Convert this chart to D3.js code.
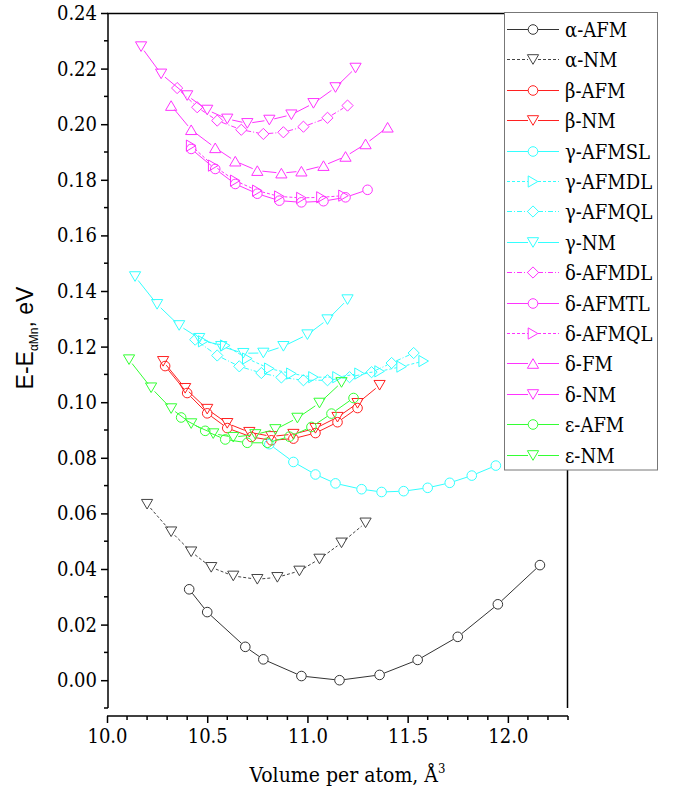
<!DOCTYPE html>
<html>
<head>
<meta charset="utf-8">
<script src="https://cdn.jsdelivr.net/npm/d3@7"></script>
<style>
body { margin: 0; background: #fff; }
text { font-family: "DejaVu Serif Condensed", "DejaVu Serif", serif; }
</style>
</head>
<body>
<div id="app"></div>
<script>
// Data: [volume per atom (Å^3), E - E_aMn (eV)]
var aAFM = [[10.41,0.0327],[10.50,0.0245],[10.69,0.0120],[10.78,0.0075],[10.97,0.0015],[11.16,0.0000],
	[11.36,0.0019],[11.55,0.0073],[11.75,0.0156],[11.95,0.0273],[12.16,0.0414]];
var aNM = [[10.20,0.0633],[10.32,0.0534],[10.42,0.0462],[10.52,0.0406],[10.63,0.0375],[10.75,0.0363],
	[10.85,0.0370],[10.96,0.0393],[11.06,0.0436],[11.17,0.0494],[11.29,0.0566]];
var bAFM = [[10.29,0.1130],[10.40,0.1033],[10.50,0.0960],[10.60,0.0907],[10.72,0.0875],[10.82,0.0863],
	[10.93,0.0869],[11.04,0.0889],[11.15,0.0928],[11.25,0.0979]];
var bNM = [[10.28,0.1147],[10.39,0.1050],[10.50,0.0975],[10.60,0.0924],[10.71,0.0892],[10.82,0.0877],
	[10.93,0.0885],[11.04,0.0906],[11.15,0.0946],[11.25,0.0996],[11.36,0.1061]];
var gAFMSL = [[10.81,0.0849],[10.93,0.0785],[11.04,0.0740],[11.14,0.0708],[11.27,0.0687],[11.37,0.0677],
	[11.48,0.0680],[11.60,0.0692],[11.71,0.0710],[11.82,0.0736],[11.94,0.0772]];
var gAFMDL = [[10.48,0.1219],[10.59,0.1204],[10.70,0.1157],[10.81,0.1121],[10.92,0.1103],[11.03,0.1090],
	[11.15,0.1090],[11.26,0.1103],[11.36,0.1111],[11.47,0.1128],[11.58,0.1148]];
var gAFMQL = [[10.44,0.1225],[10.55,0.1168],[10.66,0.1129],[10.77,0.1105],[10.87,0.1089],[10.98,0.1079],
	[11.10,0.1079],[11.21,0.1090],[11.32,0.1108],[11.42,0.1141],[11.53,0.1177]];
var gNM = [[10.14,0.1452],[10.25,0.1352],[10.36,0.1276],[10.46,0.1230],[10.57,0.1201],[10.68,0.1176],
	[10.78,0.1177],[10.88,0.1201],[11.00,0.1243],[11.10,0.1297],[11.20,0.1369]];
var dAFMDL = [[10.35,0.2130],[10.45,0.2061],[10.55,0.2013],[10.67,0.1980],[10.78,0.1965],[10.88,0.1971],
	[10.98,0.1991],[11.10,0.2023],[11.20,0.2067]];
var dAFMTL = [[10.42,0.1911],[10.54,0.1839],[10.64,0.1785],[10.75,0.1750],[10.86,0.1725],[10.97,0.1719],
	[11.08,0.1723],[11.19,0.1737],[11.30,0.1764]];
var dAFMQL = [[10.42,0.1923],[10.53,0.1851],[10.64,0.1797],[10.75,0.1761],[10.86,0.1740],[10.97,0.1735],
	[11.07,0.1737],[11.18,0.1743]];
var dFM = [[10.32,0.2067],[10.42,0.1980],[10.54,0.1915],[10.64,0.1867],[10.75,0.1833],[10.87,0.1824],
	[10.97,0.1831],[11.08,0.1851],[11.19,0.1884],[11.29,0.1929],[11.40,0.1989]];
var dNM = [[10.17,0.2279],[10.27,0.2181],[10.40,0.2103],[10.50,0.2051],[10.60,0.2019],[10.70,0.2003],
	[10.81,0.2015],[10.92,0.2034],[11.03,0.2075],[11.14,0.2132],[11.24,0.2202]];
var eAFM = [[10.37,0.0945],[10.49,0.0897],[10.59,0.0866],[10.70,0.0854],[10.80,0.0854],[10.91,0.0876],
	[11.02,0.0911],[11.12,0.0959],[11.23,0.1015]];
var eNM = [[10.11,0.1153],[10.22,0.1052],[10.32,0.0977],[10.42,0.0923],[10.53,0.0887],[10.63,0.0874],
	[10.74,0.0884],[10.84,0.0902],[10.95,0.0943],[11.06,0.0997],[11.17,0.1071]];

var labels = ["α-AFM", "α-NM", "β-AFM", "β-NM", "γ-AFMSL", "γ-AFMDL", "γ-AFMQL", "γ-NM",
	"δ-AFMDL", "δ-AFMTL", "δ-AFMQL", "δ-FM", "δ-NM", "ε-AFM", "ε-NM"];
var seriesData = [aAFM, aNM, bAFM, bNM, gAFMSL, gAFMDL, gAFMQL, gNM, dAFMDL, dAFMTL, dAFMQL, dFM, dNM, eAFM, eNM];

var xTicks = [10.0, 10.5, 11.0, 11.5, 12.0];
var yTicks = [0.00, 0.02, 0.04, 0.06, 0.08, 0.10, 0.12, 0.14, 0.16, 0.18, 0.20, 0.22, 0.24];

// Styles, one per series (colour, dash, marker)
var styles = [
	{c: "#333", dash: null, m: "circle"},
	{c: "#444", dash: "3,2", m: "down"},
	{c: "#ff2020", dash: null, m: "circle"},
	{c: "#ff2020", dash: null, m: "down"},
	{c: "#33ffff", dash: null, m: "circle"},
	{c: "#33ffff", dash: "3,2", m: "right"},
	{c: "#33ffff", dash: "5,2,1,2", m: "diamond"},
	{c: "#33ffff", dash: null, m: "down"},
	{c: "#ff33ff", dash: "5,2,1,2", m: "diamond"},
	{c: "#ff33ff", dash: null, m: "circle"},
	{c: "#ff33ff", dash: "3,2", m: "right"},
	{c: "#ff33ff", dash: null, m: "up"},
	{c: "#ff33ff", dash: null, m: "down"},
	{c: "#33ff33", dash: null, m: "circle"},
	{c: "#33ff33", dash: null, m: "down"}
];

var W = 681, H = 792;
var x0 = 107, x1 = 568, yTop = 13, yBot = 708, xAxisY = 716;
var serif = "'DejaVu Serif Condensed','DejaVu Serif',serif";

var svg = d3.select("#app").append("svg")
	.attr("width", W).attr("height", H)
	.style("display", "block");

var x = d3.scaleLinear().domain([10.0, 12.3]).range([x0, x1]);
var y = d3.scaleLinear().domain([-0.01, 0.24]).range([yBot, yTop]);

// Marker path generator (centred at 0,0)
function markerPath (type)
{
	var r = 4.8, w = 5.6, h = 9.6;
	switch (type)
	{
		case "circle":
			return "M" + (-r) + ",0A" + r + "," + r + " 0 1,0 " + r + ",0A" + r + "," + r + " 0 1,0 " + (-r) + ",0Z";
		case "down":
			return "M" + (-w) + "," + (-h/2) + "L" + w + "," + (-h/2) + "L0," + (h/2) + "Z";
		case "up":
			return "M" + (-w) + "," + (h/2) + "L" + w + "," + (h/2) + "L0," + (-h/2) + "Z";
		case "right":
			return "M" + (-h/2) + "," + (-w) + "L" + (h/2) + ",0L" + (-h/2) + "," + w + "Z";
		case "diamond":
			return "M0," + (-w) + "L" + w + ",0L0," + w + "L" + (-w) + ",0Z";
	}
}

// Frame: top and right lines
svg.append("line").attr("x1", x0).attr("x2", x1).attr("y1", yTop + 0.5).attr("y2", yTop + 0.5)
	.attr("stroke", "#000").attr("stroke-width", 1.5);
svg.append("line").attr("x1", x1 - 0.5).attr("x2", x1 - 0.5).attr("y1", yTop).attr("y2", yBot)
	.attr("stroke", "#000").attr("stroke-width", 1.5);

// Y axis
var yAxis = d3.axisLeft(y).tickValues(yTicks).tickFormat(d3.format(".2f")).tickSize(7).tickPadding(4);
var gy = svg.append("g").attr("transform", "translate(" + (x0 + 1) + ",0)").call(yAxis);
gy.select(".domain").attr("d", "M0," + yTop + "V" + yBot).attr("stroke-width", 1.5);
gy.selectAll(".tick line").attr("stroke-width", 1.5);
gy.selectAll("text").style("font-size", "20px").attr("fill", "#000").style("font-family", serif);
gy.selectAll(".ytick-minor").data(d3.range(-0.01, 0.245, 0.02)).enter().append("line")
	.attr("x1", 0).attr("x2", -4).attr("y1", function (d) {return y(d);}).attr("y2", function (d) {return y(d);})
	.attr("stroke", "#000").attr("stroke-width", 1.5);

// X axis (detached below the frame)
var xAxis = d3.axisBottom(x).tickValues(xTicks).tickFormat(d3.format(".1f")).tickSize(7).tickPadding(6);
var gx = svg.append("g").attr("transform", "translate(0," + xAxisY + ")").call(xAxis);
gx.select(".domain").attr("d", "M" + x0 + ",0H" + x1).attr("stroke-width", 1.5);
gx.selectAll(".tick line").attr("stroke-width", 1.5);
gx.selectAll("text").style("font-size", "20px").attr("fill", "#000").style("font-family", serif);
gx.selectAll(".xtick-minor").data(d3.range(10.1, 12.31, 0.1).filter(function (d) {
		return Math.abs(d*2 - Math.round(d*2)) > 0.01;})).enter().append("line")
	.attr("x1", function (d) {return x(d);}).attr("x2", function (d) {return x(d);})
	.attr("y1", 0).attr("y2", 4)
	.attr("stroke", "#000").attr("stroke-width", 1.5);

// Axis titles
svg.append("text")
	.attr("x", (x0 + x1)/2 + 10).attr("y", 782)
	.attr("text-anchor", "middle").style("font-size", "21px")
	.text("Volume per atom, Å")
	.append("tspan").attr("dy", -9).style("font-size", "13px").text("3");

var yt = svg.append("text")
	.attr("transform", "translate(33,338) rotate(-90)")
	.attr("text-anchor", "middle")
	.style("font-family", "'Liberation Sans Narrow','Liberation Sans',sans-serif")
	.style("font-size", "23px");
yt.append("tspan").text("E-E");
yt.append("tspan").attr("dy", 5).style("font-size", "12px").text("αMn");
yt.append("tspan").attr("dy", -5).text(", eV");

// Series: trimmed line segments, then hollow markers
var gap = 5;
seriesData.forEach(function (data, i)
{
	var st = styles[i];
	var g = svg.append("g");
	var pts = data.map(function (d) {return [x(d[0]), y(d[1])];});
	for (var k = 0; k < pts.length - 1; k++)
	{
		var p = pts[k], q = pts[k+1];
		var dx = q[0] - p[0], dy = q[1] - p[1], len = Math.sqrt(dx*dx + dy*dy);
		if (len <= 2*gap) continue;
		var ux = dx/len, uy = dy/len;
		g.append("line")
			.attr("x1", p[0] + ux*gap).attr("y1", p[1] + uy*gap)
			.attr("x2", q[0] - ux*gap).attr("y2", q[1] - uy*gap)
			.attr("stroke", st.c).attr("stroke-width", 1)
			.attr("stroke-dasharray", st.dash);
	}
	g.selectAll("path").data(pts).enter().append("path")
		.attr("d", markerPath(st.m))
		.attr("transform", function (d) {return "translate(" + d[0] + "," + d[1] + ")";})
		.attr("fill", "none").attr("stroke", st.c).attr("stroke-width", 1);
});

// Legend
var lx = 504.5, ly = 12.5, lw = 153, lh = 457.5, rowH = 30.4, row0 = 29;
var leg = svg.append("g");
leg.append("rect").attr("x", lx).attr("y", ly).attr("width", lw).attr("height", lh)
	.attr("fill", "#fff").attr("stroke", "#777").attr("stroke-width", 1);
labels.forEach(function (name, i)
{
	var st = styles[i], cy = Math.round(row0 + i*rowH) + 0.5;
	leg.append("line").attr("x1", 507).attr("x2", 528).attr("y1", cy).attr("y2", cy)
		.attr("stroke", st.c).attr("stroke-dasharray", st.dash);
	leg.append("line").attr("x1", 538).attr("x2", 559).attr("y1", cy).attr("y2", cy)
		.attr("stroke", st.c).attr("stroke-dasharray", st.dash);
	leg.append("path").attr("d", markerPath(st.m)).attr("transform", "translate(533," + cy + ")")
		.attr("fill", "none").attr("stroke", st.c);
	leg.append("text").attr("x", 565).attr("y", cy + 7)
		.style("font-size", "20px").attr("fill", "#000").text(name);
});
</script>
</body>
</html>
